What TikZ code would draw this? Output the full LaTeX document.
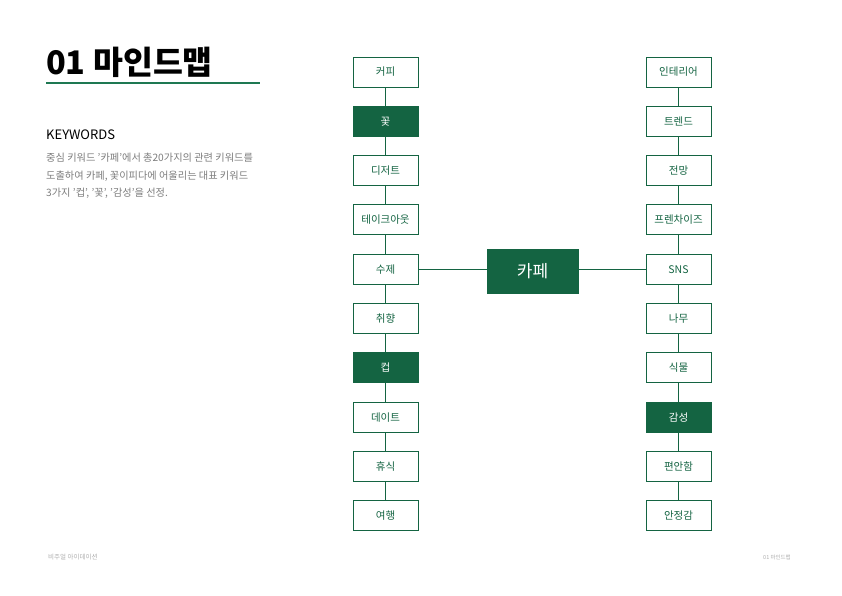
\documentclass[tikz,border=0pt]{standalone}
\usepackage{fontspec}
\setmainfont{Noto Sans CJK KR}
\usetikzlibrary{positioning}
\definecolor{cafegreen}{RGB}{20,100,66}
\definecolor{rulegreen}{RGB}{30,120,82}
\definecolor{bodygray}{RGB}{125,125,125}
\definecolor{footgray}{RGB}{175,175,175}

\begin{document}
\begin{tikzpicture}[
  x=1pt, y=-1pt,
  node distance=18.4pt,
  box/.style={draw=cafegreen, line width=0.9pt, fill=white, minimum width=65pt, minimum height=30pt, inner sep=0pt, font=\fontsize{10.5}{11}\selectfont, text=cafegreen},
  pick/.style={box, fill=cafegreen, text=white},
  hub/.style={box, fill=cafegreen, text=white, minimum width=91pt, minimum height=44pt, font=\fontsize{17}{18}\selectfont},
  link/.style={draw=cafegreen, line width=0.8pt}
]
\useasboundingbox[fill=white] (0,0) rectangle (842,595);

% heading and description
\node[anchor=base west, inner sep=0pt, font=\fontsize{32.5}{33}\selectfont\bfseries] (title) at (46,74) {01 마인드맵};
\draw[rulegreen, line width=2pt] (46,82.5) -- (260,82.5);
\node[anchor=base west, inner sep=0pt, font=\fontsize{13}{14}\selectfont] (kw) at (46,139.5) {KEYWORDS};
\node[anchor=north west, inner sep=0pt, align=left, text=bodygray, font=\fontsize{10.2}{17.5}\selectfont] (desc) at (46,153) {중심 키워드 '카페'에서 총20가지의 관련 키워드를\\도출하여 카페, 꽃이피다에 어울리는 대표 키워드\\3가지 '컵', '꽃', '감성'을 선정.};

% footer
\node[anchor=west, inner sep=0pt, text=footgray, font=\fontsize{6.5}{7}\selectfont] (footl) at (48,557) {비주얼 아이데이션};
\node[anchor=west, inner sep=0pt, text=footgray, font=\fontsize{5.5}{6}\selectfont] (footr) at (763,557) {01 마인드맵};

% left column
\node[box] (L1) at (385.5,72) {커피};
\node[pick, below=of L1] (L2) {꽃};
\node[box, below=of L2] (L3) {디저트};
\node[box, below=of L3] (L4) {테이크아웃};
\node[box, below=of L4] (L5) {수제};
\node[box, below=of L5] (L6) {취향};
\node[pick, below=of L6] (L7) {컵};
\node[box, below=of L7] (L8) {데이트};
\node[box, below=of L8] (L9) {휴식};
\node[box, below=of L9] (L10) {여행};

% right column
\node[box] (R1) at (678.5,72) {인테리어};
\node[box, below=of R1] (R2) {트렌드};
\node[box, below=of R2] (R3) {전망};
\node[box, below=of R3] (R4) {프렌차이즈};
\node[box, below=of R4] (R5) {SNS};
\node[box, below=of R5] (R6) {나무};
\node[box, below=of R6] (R7) {식물};
\node[pick, below=of R7] (R8) {감성};
\node[box, below=of R8] (R9) {편안함};
\node[box, below=of R9] (R10) {안정감};

% centre
\node[hub] (cafe) at (532.5,271) {카페};

\foreach \a/\b in {1/2,2/3,3/4,4/5,5/6,6/7,7/8,8/9,9/10} {
  \draw[link] (L\a) -- (L\b);
  \draw[link] (R\a) -- (R\b);
}
\draw[link] (L5.east) -- (L5 -| cafe.west);
\draw[link] (R5 -| cafe.east) -- (R5.west);

\end{tikzpicture}
\end{document}
